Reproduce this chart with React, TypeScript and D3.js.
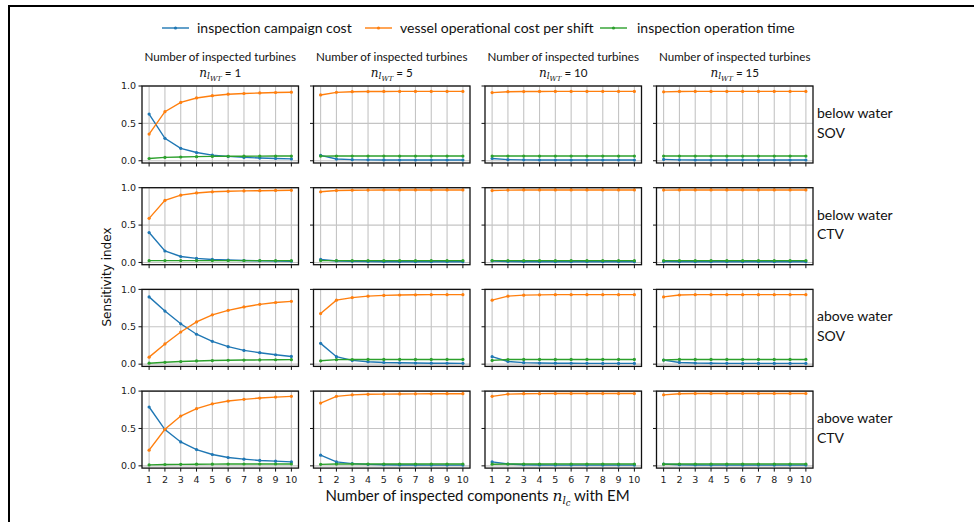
import React from "react";
import * as d3 from "d3";

// x values (number of inspected components) and panel columns (number of inspected turbines)
const components = [1, 2, 3, 4, 5, 6, 7, 8, 9, 10];
const turbineCounts = [1, 5, 10, 15];
const rowLabels = [
  ["below water", "SOV"],
  ["below water", "CTV"],
  ["above water", "SOV"],
  ["above water", "CTV"],
];
const seriesNames = [
  "inspection campaign cost",
  "vessel operational cost per shift",
  "inspection operation time",
];
const seriesColors = ["#1f77b4", "#ff7f0e", "#2ca02c"];
const yTicks = [0, 0.5, 1.0];
const yTickLabels = ["0.0", "0.5", "1.0"];

// each array: one list per turbine count (1, 5, 10, 15)
const campaignBelowSOV = [
  [0.625, 0.3, 0.166, 0.11, 0.076, 0.058, 0.045, 0.036, 0.03, 0.025],
  [0.072, 0.023, 0.015, 0.012, 0.011, 0.01, 0.01, 0.01, 0.01, 0.01],
  [0.03, 0.015, 0.012, 0.01, 0.01, 0.01, 0.01, 0.01, 0.01, 0.01],
  [0.018, 0.012, 0.01, 0.01, 0.01, 0.01, 0.01, 0.01, 0.01, 0.01],
];
const vesselBelowSOV = [
  [0.357, 0.656, 0.78, 0.84, 0.87, 0.89, 0.9, 0.907, 0.913, 0.917],
  [0.88, 0.915, 0.924, 0.926, 0.927, 0.928, 0.928, 0.928, 0.928, 0.928],
  [0.912, 0.924, 0.926, 0.927, 0.928, 0.928, 0.928, 0.928, 0.928, 0.928],
  [0.922, 0.927, 0.928, 0.928, 0.928, 0.928, 0.928, 0.928, 0.928, 0.928],
];
const timeBelowSOV = [
  [0.03, 0.045, 0.05, 0.055, 0.058, 0.06, 0.061, 0.062, 0.063, 0.063],
  [0.062, 0.063, 0.063, 0.063, 0.063, 0.063, 0.063, 0.063, 0.063, 0.063],
  [0.063, 0.063, 0.063, 0.063, 0.063, 0.063, 0.063, 0.063, 0.063, 0.063],
  [0.063, 0.063, 0.063, 0.063, 0.063, 0.063, 0.063, 0.063, 0.063, 0.063],
];

const campaignBelowCTV = [
  [0.4, 0.153, 0.08, 0.054, 0.04, 0.032, 0.026, 0.022, 0.019, 0.016],
  [0.04, 0.02, 0.015, 0.012, 0.01, 0.01, 0.01, 0.01, 0.01, 0.01],
  [0.02, 0.012, 0.01, 0.01, 0.01, 0.01, 0.01, 0.01, 0.01, 0.01],
  [0.012, 0.01, 0.01, 0.01, 0.01, 0.01, 0.01, 0.01, 0.01, 0.01],
];
const vesselBelowCTV = [
  [0.59, 0.83, 0.9, 0.93, 0.945, 0.952, 0.957, 0.96, 0.963, 0.965],
  [0.945, 0.962, 0.966, 0.968, 0.969, 0.97, 0.97, 0.97, 0.97, 0.97],
  [0.962, 0.968, 0.97, 0.97, 0.97, 0.97, 0.97, 0.97, 0.97, 0.97],
  [0.968, 0.97, 0.97, 0.97, 0.97, 0.97, 0.97, 0.97, 0.97, 0.97],
];
const timeBelowCTV = [
  [0.024, 0.025, 0.025, 0.025, 0.025, 0.025, 0.025, 0.025, 0.025, 0.025],
  [0.025, 0.025, 0.025, 0.025, 0.025, 0.025, 0.025, 0.025, 0.025, 0.025],
  [0.025, 0.025, 0.025, 0.025, 0.025, 0.025, 0.025, 0.025, 0.025, 0.025],
  [0.025, 0.025, 0.025, 0.025, 0.025, 0.025, 0.025, 0.025, 0.025, 0.025],
];

const campaignAboveSOV = [
  [0.9, 0.71, 0.54, 0.4, 0.305, 0.234, 0.184, 0.153, 0.126, 0.103],
  [0.278, 0.1, 0.05, 0.032, 0.022, 0.018, 0.015, 0.013, 0.012, 0.011],
  [0.1, 0.036, 0.02, 0.015, 0.013, 0.012, 0.011, 0.01, 0.01, 0.01],
  [0.054, 0.023, 0.015, 0.012, 0.011, 0.01, 0.01, 0.01, 0.01, 0.01],
];
const vesselAboveSOV = [
  [0.094, 0.27, 0.43, 0.565, 0.66, 0.72, 0.765, 0.8, 0.825, 0.84],
  [0.677, 0.856, 0.89, 0.91, 0.92, 0.925, 0.928, 0.93, 0.93, 0.93],
  [0.856, 0.91, 0.923, 0.927, 0.93, 0.93, 0.93, 0.93, 0.93, 0.93],
  [0.9, 0.925, 0.93, 0.93, 0.93, 0.93, 0.93, 0.93, 0.93, 0.93],
];
const timeAboveSOV = [
  [0.013, 0.025, 0.035, 0.043, 0.048, 0.052, 0.055, 0.057, 0.059, 0.06],
  [0.045, 0.06, 0.062, 0.063, 0.063, 0.063, 0.063, 0.063, 0.063, 0.063],
  [0.05, 0.062, 0.063, 0.063, 0.063, 0.063, 0.063, 0.063, 0.063, 0.063],
  [0.055, 0.063, 0.063, 0.063, 0.063, 0.063, 0.063, 0.063, 0.063, 0.063],
];

const campaignAboveCTV = [
  [0.787, 0.485, 0.32, 0.218, 0.152, 0.112, 0.09, 0.072, 0.063, 0.053],
  [0.143, 0.053, 0.03, 0.02, 0.015, 0.012, 0.011, 0.01, 0.01, 0.01],
  [0.053, 0.025, 0.015, 0.012, 0.01, 0.01, 0.01, 0.01, 0.01, 0.01],
  [0.025, 0.015, 0.012, 0.01, 0.01, 0.01, 0.01, 0.01, 0.01, 0.01],
];
const vesselAboveCTV = [
  [0.21, 0.49, 0.667, 0.765, 0.83, 0.867, 0.89, 0.907, 0.92, 0.93],
  [0.84, 0.93, 0.95, 0.957, 0.96, 0.962, 0.963, 0.964, 0.965, 0.965],
  [0.93, 0.96, 0.965, 0.966, 0.967, 0.967, 0.967, 0.967, 0.967, 0.967],
  [0.95, 0.965, 0.967, 0.968, 0.968, 0.968, 0.968, 0.968, 0.968, 0.968],
];
const timeAboveCTV = [
  [0.013, 0.018, 0.02, 0.022, 0.023, 0.024, 0.025, 0.025, 0.025, 0.025],
  [0.02, 0.024, 0.025, 0.025, 0.025, 0.025, 0.025, 0.025, 0.025, 0.025],
  [0.022, 0.025, 0.025, 0.025, 0.025, 0.025, 0.025, 0.025, 0.025, 0.025],
  [0.022, 0.025, 0.025, 0.025, 0.025, 0.025, 0.025, 0.025, 0.025, 0.025],
];

const rowSeries = [
  [campaignBelowSOV, vesselBelowSOV, timeBelowSOV],
  [campaignBelowCTV, vesselBelowCTV, timeBelowCTV],
  [campaignAboveSOV, vesselAboveSOV, timeAboveSOV],
  [campaignAboveCTV, vesselAboveCTV, timeAboveCTV],
];

// layout
const W = 974;
const H = 522;
const left0 = 142;
const colStep = 171.5;
const pw = 156.5;
const top0 = 86;
const rowStep = 101.7;
const ph = 77;

const uiFont = "Lato, 'Open Sans', sans-serif";
const tickFont = "'DejaVu Sans', sans-serif";
const mathFont = "'DejaVu Serif', serif";

const x = d3.scaleLinear().domain([0.55, 10.45]).range([0, pw]);
const y = d3.scaleLinear().domain([-0.03, 1.0]).range([ph, 0]);
const line = d3
  .line<number>()
  .x((_, i) => x(components[i]))
  .y((d) => y(d));

const Panel = ({ row, col }: { row: number; col: number }) => {
  const tx = left0 + col * colStep;
  const ty = top0 + row * rowStep;
  const series = rowSeries[row];
  return (
    <g transform={`translate(${tx},${ty})`}>
      {/* grid */}
      {components.map((c) => (
        <line key={"gx" + c} x1={x(c)} x2={x(c)} y1={0} y2={ph} stroke="#c4c4c4" strokeWidth={1.1} />
      ))}
      {yTicks.map((t) => (
        <line key={"gy" + t} x1={0} x2={pw} y1={y(t)} y2={y(t)} stroke="#c4c4c4" strokeWidth={1.1} />
      ))}
      {/* lines */}
      {series.map((s, si) => (
        <g key={si}>
          <path d={line(s[col]) || ""} fill="none" stroke={seriesColors[si]} strokeWidth={1.4} />
          {s[col].map((v, i) => (
            <circle key={i} cx={x(components[i])} cy={y(v)} r={1.6} fill={seriesColors[si]} />
          ))}
        </g>
      ))}
      {/* spines */}
      <rect x={0} y={0} width={pw} height={ph} fill="none" stroke="#111" strokeWidth={1.3} />
      {/* ticks */}
      {components.map((c) => (
        <line key={"tx" + c} x1={x(c)} x2={x(c)} y1={ph} y2={ph + 3.5} stroke="#111" strokeWidth={1} />
      ))}
      {yTicks.map((t) => (
        <line key={"ty" + t} x1={-3.5} x2={0} y1={y(t)} y2={y(t)} stroke="#111" strokeWidth={1} />
      ))}
      {col === 0 &&
        yTicks.map((t, i) => (
          <text key={"yl" + t} x={-6} y={y(t)} dy="0.35em" textAnchor="end" fontFamily={tickFont} fontSize={9.5} fill="#222">
            {yTickLabels[i]}
          </text>
        ))}
      {row === 3 &&
        components.map((c) => (
          <text key={"xl" + c} x={x(c)} y={ph + 14.5} textAnchor="middle" fontFamily={tickFont} fontSize={9.5} fill="#222">
            {c}
          </text>
        ))}
    </g>
  );
};

const legendPos = [
  { lx: 162, tx: 197 },
  { lx: 365, tx: 400 },
  { lx: 600, tx: 637 },
];

export default function App() {
  return (
    <svg width={W} height={H} style={{ position: "absolute", left: 0, top: 0, background: "#fff" }}>
      <path d={`M9,${H} V6 H${W}`} fill="none" stroke="#000" strokeWidth={2} />

      {/* legend */}
      {seriesNames.map((n, i) => (
        <g key={n}>
          <line x1={legendPos[i].lx} x2={legendPos[i].lx + 27} y1={28} y2={28} stroke={seriesColors[i]} strokeWidth={1.4} />
          <circle cx={legendPos[i].lx + 13.5} cy={28} r={1.6} fill={seriesColors[i]} />
          <text x={legendPos[i].tx} y={33} fontFamily={uiFont} fontSize={14} fill="#111">
            {n}
          </text>
        </g>
      ))}

      {/* column titles */}
      {turbineCounts.map((n, c) => {
        const cx = left0 + c * colStep + pw / 2;
        return (
          <g key={n}>
            <text x={cx} y={61} textAnchor="middle" fontFamily={uiFont} fontSize={11.6} fill="#111">
              Number of inspected turbines
            </text>
            <text x={cx} y={76.5} textAnchor="middle" fontFamily={uiFont} fontSize={11.6} fill="#111">
              <tspan fontFamily={mathFont} fontStyle="italic" fontSize={12}>n</tspan>
              <tspan fontFamily={mathFont} fontStyle="italic" fontSize={9} dy={2.5}>l</tspan>
              <tspan fontFamily={mathFont} fontStyle="italic" fontSize={7} dy={2}>WT</tspan>
              <tspan dy={-4.5}>{` = ${n}`}</tspan>
            </text>
          </g>
        );
      })}

      {/* panels */}
      {rowLabels.map((_, r) => turbineCounts.map((__, c) => <Panel key={r + "-" + c} row={r} col={c} />))}

      {/* row labels */}
      {rowLabels.map((lbl, r) => {
        const ty = top0 + r * rowStep;
        return (
          <text key={r} x={817} y={ty + 32} fontFamily={uiFont} fontSize={14} fill="#111">
            <tspan x={817}>{lbl[0]}</tspan>
            <tspan x={817} dy={19.5}>{lbl[1]}</tspan>
          </text>
        );
      })}

      {/* y axis label */}
      <text
        transform={`translate(111,${top0 + (3 * rowStep + ph) / 2}) rotate(-90)`}
        textAnchor="middle"
        fontFamily={tickFont}
        fontSize={12}
        fill="#111"
      >
        Sensitivity index
      </text>

      {/* x axis label */}
      <text x={left0 + (3 * colStep + pw) / 2} y={501} textAnchor="middle" fontFamily={uiFont} fontSize={15} fill="#111">
        Number of inspected components{" "}
        <tspan fontFamily={mathFont} fontStyle="italic" fontSize={15.5}>n</tspan>
        <tspan fontFamily={mathFont} fontStyle="italic" fontSize={10.5} dy={3}>l</tspan>
        <tspan fontFamily={mathFont} fontStyle="italic" fontSize={8.5} dy={2}>c</tspan>
        <tspan dy={-5}>{" with EM"}</tspan>
      </text>
    </svg>
  );
}
